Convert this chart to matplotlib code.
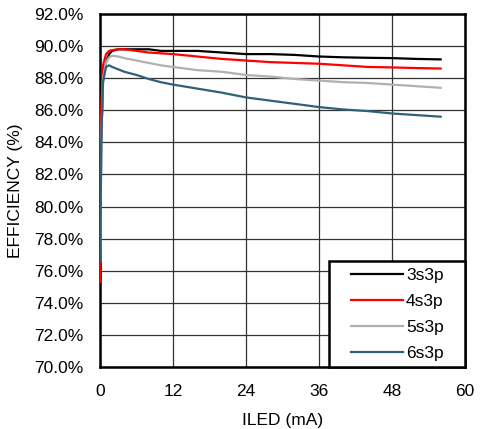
import matplotlib
matplotlib.use("Agg")
import matplotlib.pyplot as plt
from matplotlib.lines import Line2D
from matplotlib.legend_handler import HandlerLine2D
from matplotlib.ticker import FuncFormatter

iled = [0.05, 0.2, 0.5, 1, 1.5, 2, 3, 4, 6, 8, 10, 12, 16, 20, 24, 28, 32, 36, 40, 44, 48, 52, 56]

eff_3s3p = [75.5, 84.0, 87.8, 89.0, 89.5, 89.7, 89.8, 89.8, 89.8, 89.8, 89.7, 89.7, 89.7, 89.6,
            89.5, 89.5, 89.45, 89.35, 89.3, 89.27, 89.25, 89.2, 89.17]
eff_4s3p = [75.3, 86.0, 88.8, 89.5, 89.7, 89.75, 89.8, 89.8, 89.7, 89.6, 89.55, 89.5, 89.35, 89.2,
            89.1, 89.0, 88.95, 88.9, 88.8, 88.7, 88.67, 88.63, 88.6]
eff_5s3p = [76.6, 84.0, 88.0, 89.0, 89.3, 89.4, 89.35, 89.25, 89.1, 88.95, 88.8, 88.7, 88.5, 88.4,
            88.2, 88.1, 87.95, 87.85, 87.75, 87.7, 87.6, 87.5, 87.4]
eff_6s3p = [76.6, 84.0, 87.8, 88.7, 88.8, 88.7, 88.55, 88.4, 88.2, 87.95, 87.75, 87.6, 87.35, 87.1,
            86.8, 86.6, 86.4, 86.2, 86.05, 85.95, 85.8, 85.7, 85.6]

labels = ["3s3p", "4s3p", "5s3p", "6s3p"]
colors = ["#000000", "#ff0000", "#b0b0b0", "#2f6178"]

x_ticks = [0, 12, 24, 36, 48, 60]
y_ticks = [70, 72, 74, 76, 78, 80, 82, 84, 86, 88, 90, 92]

plt.rcParams['font.family'] = ['Liberation Sans', 'DejaVu Sans']
plt.rcParams['font.size'] = 12.5

fig = plt.figure(figsize=(4.8, 4.29), dpi=100)
ax = fig.add_axes([0.2083, 0.1445, 0.7604, 0.8229])

for series, lab, col in zip([eff_3s3p, eff_4s3p, eff_5s3p, eff_6s3p], labels, colors):
    ax.plot(iled, series, color=col, linewidth=1.6, label=lab, zorder=3)

ax.set_xlim(0, 60)
ax.set_ylim(70, 92)
ax.set_xticks(x_ticks)
ax.set_yticks(y_ticks)
ax.yaxis.set_major_formatter(FuncFormatter(lambda v, _: f"{v:.1f}%"))
ax.tick_params(length=0, pad=12)
ax.grid(True, color="#333333", linewidth=0.9)
ax.set_axisbelow(True)
for s in ax.spines.values():
    s.set_linewidth(1.8)
    s.set_color("black")

ax.set_xlabel("ILED (mA)", labelpad=10)
ax.set_ylabel("EFFICIENCY (%)", labelpad=8)

# legend box spans from x~329px to the right spine
leg = ax.legend(loc="lower right", bbox_to_anchor=(0.627, 0, 0.373, 0.3), mode="expand",
                borderaxespad=0, fancybox=False, framealpha=1, edgecolor="black",
                handlelength=3.9, handletextpad=0.2, labelspacing=0.63, borderpad=0.35,
                handler_map={Line2D: HandlerLine2D(xpad=0.9)})
leg.get_frame().set_linewidth(1.8)

fig.savefig("out.png", dpi=100)
